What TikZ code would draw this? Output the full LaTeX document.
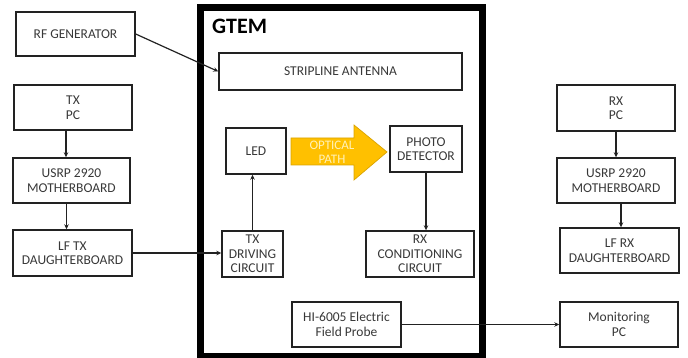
\documentclass[tikz,border=0pt]{standalone}
\usepackage{fontspec}
\setmainfont{Carlito}
\usetikzlibrary{arrows.meta,calc}
\definecolor{txt}{HTML}{383838}
\definecolor{edge}{HTML}{222222}
\definecolor{gold}{HTML}{FFC000}
\definecolor{golde}{HTML}{D9A300}
\definecolor{paletxt}{HTML}{FFF1B8}
\tikzset{
  blk/.style={draw=edge, line width=1.4pt, text=txt, align=center, inner sep=0pt,
    font=\fontsize{13.5}{14.5}\selectfont},
  arr/.style={draw=edge, line width=1.2pt, -{Stealth[length=5pt,width=4.5pt]}},
  gframe/.style={draw=black, line width=7pt, inner sep=0pt}
}
\begin{document}
\begin{tikzpicture}[x=1pt,y=-1pt]
\useasboundingbox (0,0) rectangle (688,358);
% GTEM frame
\node[gframe, minimum width=282pt, minimum height=348pt] (gtem) at (341,182) {};
\node[anchor=base west, inner sep=0pt, font=\fontsize{22}{24}\selectfont\bfseries, text=black] (gtemlbl) at (212,34) {GTEM};

% left column
\node[blk, minimum width=119pt, minimum height=44pt] (rfgen) at (75.5,34) {RF GENERATOR};
\node[blk, minimum width=118pt, minimum height=45pt] (txpc) at (73,107.5) {TX\\PC};
\node[blk, minimum width=117pt, minimum height=45pt] (usrpL) at (71.5,180.5) {USRP 2920\\MOTHERBOARD};
\node[blk, minimum width=119pt, minimum height=46pt] (lftx) at (72.5,253) {LF TX\\DAUGHTERBOARD};

% inside GTEM
\node[blk, minimum width=243pt, minimum height=37pt] (strip) at (340.5,71.5) {STRIPLINE ANTENNA};
\node[blk, minimum width=60pt, minimum height=46pt] (led) at (256,151) {LED};
\node[blk, minimum width=72pt, minimum height=46pt] (photo) at (426,149) {PHOTO\\DETECTOR};
\node[blk, minimum width=61pt, minimum height=46pt] (txdrv) at (252.5,254) {TX\\DRIVING\\CIRCUIT};
\node[blk, minimum width=108pt, minimum height=46pt] (rxcond) at (420,254) {RX\\CONDITIONING\\CIRCUIT};
\node[blk, minimum width=109pt, minimum height=45pt] (hi) at (346.5,324.5) {HI-6005 Electric\\Field Probe};

% optical path arrow
\draw[fill=gold, draw=golde, line width=0.7pt] (291,138) -- (354,138) -- (354,125) -- (387,152) -- (354,180) -- (354,165) -- (291,165) -- cycle;
\node[text=paletxt, align=center, inner sep=0pt, font=\fontsize{13}{14}\selectfont] (optlbl) at (332,152) {OPTICAL\\PATH};

% right column
\node[blk, minimum width=118pt, minimum height=46pt] (rxpc) at (616,108) {RX\\PC};
\node[blk, minimum width=118pt, minimum height=45pt] (usrpR) at (616,180.5) {USRP 2920\\MOTHERBOARD};
\node[blk, minimum width=119pt, minimum height=45pt] (lfrx) at (619.5,250.5) {LF RX\\DAUGHTERBOARD};
\node[blk, minimum width=118pt, minimum height=45pt] (mon) at (619,324.5) {Monitoring\\PC};

% connectors
\draw[arr] (rfgen.east) -- (strip.west);
\draw[arr] ([xshift=-7pt]txpc.south) -- ([xshift=-7pt]txpc.south |- usrpL.north);
\draw[arr] ([xshift=-5pt]usrpL.south) -- ([xshift=-5pt]usrpL.south |- lftx.north);
\draw[arr] (lftx.east) -- (lftx.east -| txdrv.west);
\draw[arr] (txdrv.north) -- (txdrv.north |- led.south);
\draw[arr] (photo.south) -- (photo.south |- rxcond.north);
\draw[arr] (hi.east) -- (hi.east -| mon.west);
\draw[arr] (rxpc.south) -- (rxpc.south |- usrpR.north);
\draw[arr] ([xshift=5pt]usrpR.south) -- ([xshift=5pt]usrpR.south |- lfrx.north);
\end{tikzpicture}
\end{document}
